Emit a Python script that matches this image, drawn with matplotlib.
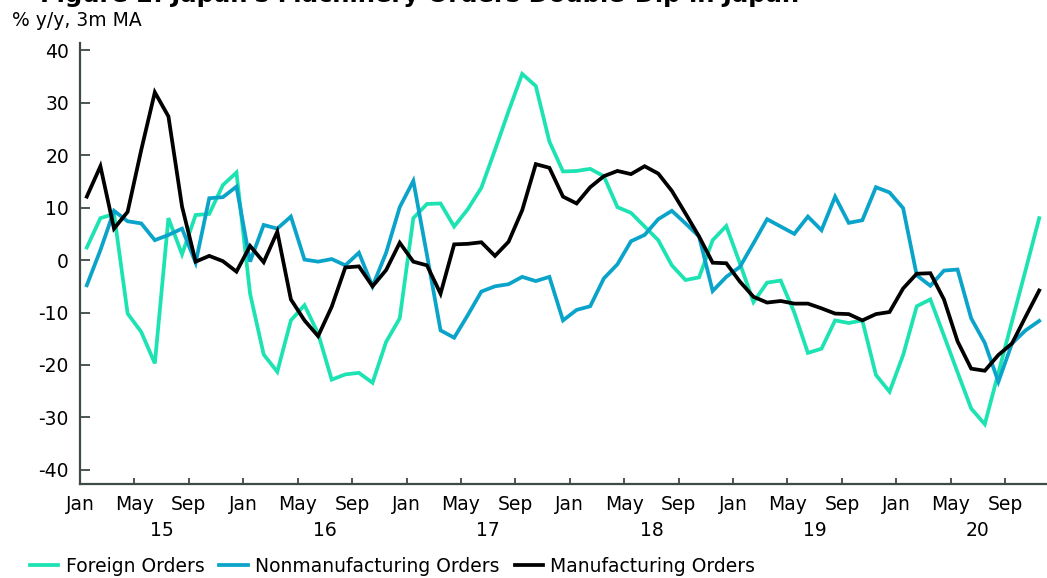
import matplotlib
matplotlib.use("Agg")
import matplotlib.pyplot as plt
from matplotlib.ticker import FixedLocator, NullFormatter

plt.rcParams['font.family'] = ['DejaVu Sans']

# ---- data (monthly, Jan 2015 - Nov 2020, % y/y 3m MA) ----
foreign = [2.4, 8.0, 8.8, -10.2, -13.7, -19.7, 8.0, 1.1, 8.6, 8.8, 14.3, 16.7,
           -6.4, -18.0, -21.3, -11.5, -8.6, -14.0, -22.8, -21.8, -21.5, -23.4, -15.6, -11.1,
           8.0, 10.7, 10.8, 6.4, 9.7, 13.8, 21.0, 28.4, 35.5, 33.2, 22.6, 16.9,
           17.0, 17.4, 16.0, 10.1, 9.0, 6.4, 3.8, -1.0, -3.8, -3.3, 3.8, 6.5,
           -0.6, -8.0, -4.3, -3.9, -10.0, -17.7, -16.9, -11.5, -12.0, -11.5, -21.9, -25.1,
           -18.1, -8.8, -7.5, -14.4, -21.4, -28.3, -31.3, -21.5, -11.7, -1.9, 8.0]
nonmanufacturing = [-4.8, 1.9, 9.4, 7.4, 7.0, 3.8, 4.8, 6.0, -0.5, 11.8, 12.0, 14.0,
                    -0.3, 6.7, 6.0, 8.3, 0.1, -0.3, 0.2, -1.0, 1.4, -5.0, 1.4, 10.1,
                    15.1, 1.0, -13.4, -14.8, -10.5, -6.0, -5.0, -4.6, -3.2, -4.0, -3.2, -11.5,
                    -9.5, -8.8, -3.5, -0.8, 3.6, 4.8, 7.8, 9.4, 7.0, 4.5, -5.9, -3.2,
                    -1.3, 3.2, 7.8, 6.4, 5.0, 8.3, 5.7, 12.1, 7.1, 7.6, 13.9, 12.9,
                    9.9, -2.9, -4.9, -2.0, -1.8, -11.1, -15.8, -23.2, -15.9, -13.4, -11.6]
manufacturing = [12.1, 17.9, 6.0, 9.2, 21.0, 32.0, 27.4, 10.2, -0.3, 0.8, -0.2, -2.2,
                 2.7, -0.4, 5.4, -7.5, -11.5, -14.5, -8.9, -1.4, -1.2, -5.0, -1.9, 3.3,
                 -0.3, -1.0, -6.4, 3.0, 3.1, 3.4, 0.8, 3.5, 9.5, 18.3, 17.6, 12.1,
                 10.8, 13.9, 16.0, 17.0, 16.4, 17.9, 16.5, 13.2, 8.9, 4.5, -0.5, -0.6,
                 -4.1, -7.0, -8.1, -7.8, -8.3, -8.3, -9.2, -10.2, -10.3, -11.5, -10.3, -9.9,
                 -5.4, -2.6, -2.5, -7.5, -15.5, -20.7, -21.1, -18.1, -15.9, -10.8, -5.8]

series_names = ["Foreign Orders", "Nonmanufacturing Orders", "Manufacturing Orders"]
series_colors = ["#1DE3B2", "#0AA3C9", "#000000"]
month_labels = ["Jan", "May", "Sep"]
year_labels = ["15", "16", "17", "18", "19", "20"]
y_ticks = [40, 30, 20, 10, 0, -10, -20, -30, -40]

W, H = 1047, 578
FS = 13.5
fig = plt.figure(figsize=(W / 100, H / 100), dpi=100)
ax = fig.add_axes([80 / W, 1 - 484 / H, (1046 - 80) / W, (484 - 43) / H])

x = list(range(len(foreign)))
for vals, name, col in zip([foreign, nonmanufacturing, manufacturing], series_names, series_colors):
    ax.plot(x, vals, color=col, lw=2.7, label=name, solid_joinstyle='miter')

ax.set_xlim(-0.5, len(foreign) - 0.5)
ax.set_ylim(-42.7, 41.4)

spine_col = "#3E4A47"
for s in ["top", "right"]:
    ax.spines[s].set_visible(False)
for s in ["left", "bottom"]:
    ax.spines[s].set_color(spine_col)
    ax.spines[s].set_linewidth(1.6)

# x ticks: every 4 months (Jan, May, Sep); Jan longer
tick_pos = [-0.5 + 4 * k for k in range(18)]
ax.xaxis.set_major_locator(FixedLocator(tick_pos))
ax.set_xticklabels([month_labels[k % 3] for k in range(18)])
jan_pos = [-0.5 + 12 * k for k in range(6)]
ax.xaxis.set_minor_locator(FixedLocator(jan_pos))
ax.xaxis.set_minor_formatter(NullFormatter())
ax.tick_params(axis='x', which='major', direction='in', length=4, width=1.3,
               color=spine_col, labelsize=FS, pad=8)
ax.tick_params(axis='x', which='minor', direction='in', length=8, width=1.3, color=spine_col)

ax.set_yticks(y_ticks)
ax.set_yticklabels([str(v) for v in y_ticks])
ax.tick_params(axis='y', direction='in', length=7, width=1.3, color=spine_col,
               labelsize=FS, pad=8)

# year labels centred under each year
trans = ax.get_xaxis_transform()
for k, yl in enumerate(year_labels):
    ax.text(5.5 + 12 * k, -0.105, yl, transform=trans, ha='center', va='center', fontsize=FS)

fig.text(12 / W, 1 - 20 / H, "% y/y, 3m MA", ha='left', va='center', fontsize=FS)
fig.text(40 / W, 1 - 2 / H, "Figure 2: Japan's Machinery Orders Double-Dip in Japan",
         ha='left', va='baseline', fontsize=17.5, fontweight='bold')

fig.legend(loc='center left', bbox_to_anchor=(30 / W, 1 - 566 / H), ncol=3, frameon=False,
           fontsize=FS, handlelength=1.5, handletextpad=0.4, columnspacing=0.8,
           borderpad=0, borderaxespad=0)

fig.savefig("out.png", dpi=100)
